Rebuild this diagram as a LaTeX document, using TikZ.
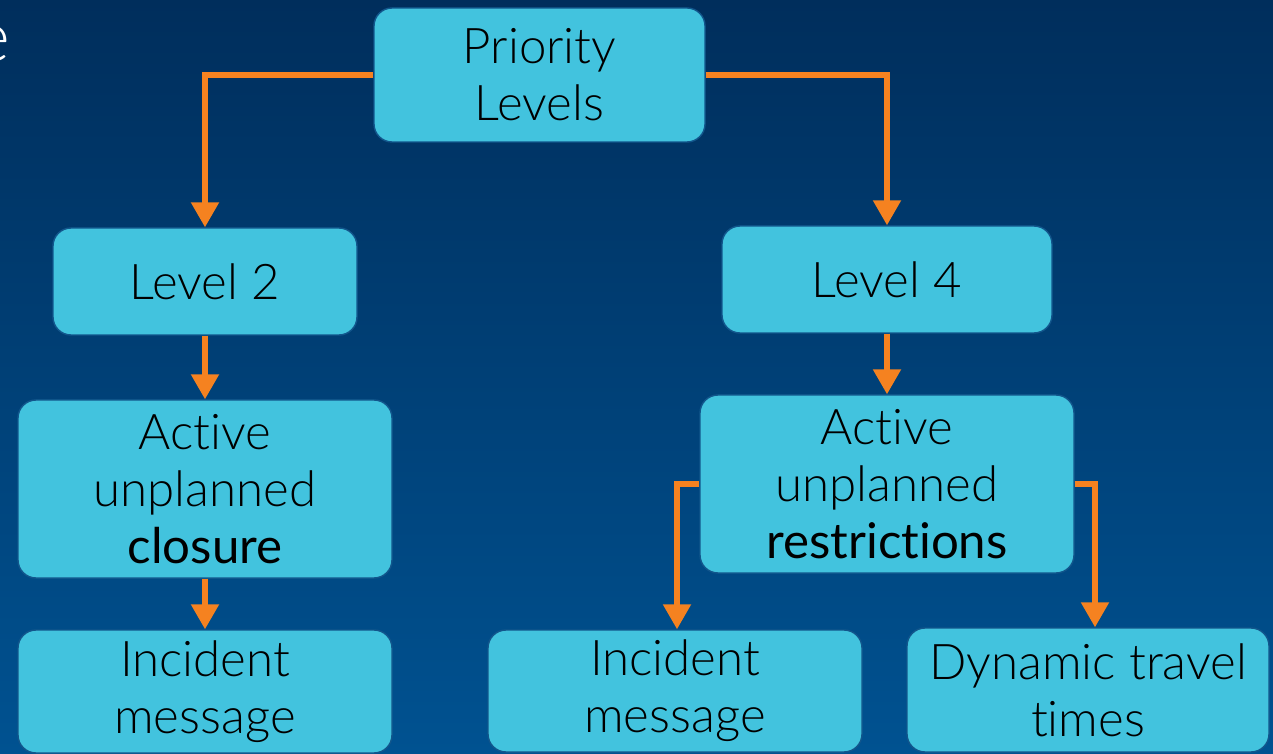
\documentclass[tikz,border=0pt]{standalone}
\usepackage{fontspec}
\setmainfont{Lato}[UprightFont=* Light, BoldFont=*, Ligatures=NoCommon]
\usetikzlibrary{arrows.meta}

\definecolor{boxfill}{RGB}{66,195,222}
\definecolor{boxline}{RGB}{18,86,140}
\definecolor{arrorange}{RGB}{245,130,32}
\definecolor{bgtop}{RGB}{0,46,92}
\definecolor{bgbottom}{RGB}{0,82,145}

\begin{document}
\begin{tikzpicture}[
    box/.style={rectangle, rounded corners=0.36cm, fill=boxfill, draw=boxline, line width=0.8pt,
                align=center, inner sep=0pt, font=\fontsize{28}{32.5}\selectfont},
    arr/.style={draw=arrorange, line width=3pt, -{Triangle[width=0.54cm,length=0.5cm]}}
]

            % Background
            \shade[top color=bgtop, bottom color=bgbottom] (0,0) rectangle (25.46,-15.08);
            \useasboundingbox (0,0) rectangle (25.46,-15.08);

            % Cut off title letter
            \node[anchor=east, text=white, inner sep=0pt, font=\fontsize{40}{48}\selectfont] (etail) at (0.22,-0.88) {e};

            % Nodes
            \node[box, minimum width=6.62cm, minimum height=2.68cm] (prio) at (10.79,-1.5) {Priority\\Levels};
            \node[box, minimum width=6.08cm, minimum height=2.14cm] (lvltwo) at (4.1,-5.63) {Level 2};
            \node[box, minimum width=6.6cm, minimum height=2.14cm] (lvlfour) at (17.74,-5.59) {Level 4};
            \node[box, minimum width=7.48cm, minimum height=3.56cm] (closure) at (4.1,-9.78) {Active\\unplanned\\\textbf{closure}};
            \node[box, minimum width=7.48cm, minimum height=3.56cm] (restr) at (17.74,-9.68) {Active\\unplanned\\\textbf{restrictions}};
            \node[box, minimum width=7.48cm, minimum height=2.46cm] (incA) at (4.1,-13.83) {Incident\\message};
            \node[box, minimum width=7.48cm, minimum height=2.44cm] (incB) at (13.5,-13.82) {Incident\\message};
            \node[box, minimum width=7.24cm, minimum height=2.48cm] (dyn) at (21.76,-13.8) {Dynamic travel\\times};

            % Edges
            \draw[arr] (prio.west) -| (lvltwo.north);
            \draw[arr] (prio.east) -| (lvlfour.north);
            \draw[arr] (lvltwo) -- (closure);
            \draw[arr] (lvlfour) -- (restr);
            \draw[arr] (closure) -- (incA);
            \draw[arr] (restr.west) -| ([xshift=0.04cm]incB.north);
            \draw[arr] (restr.east) -| ([xshift=0.14cm]dyn.north);
            \end{tikzpicture}
\end{document}
